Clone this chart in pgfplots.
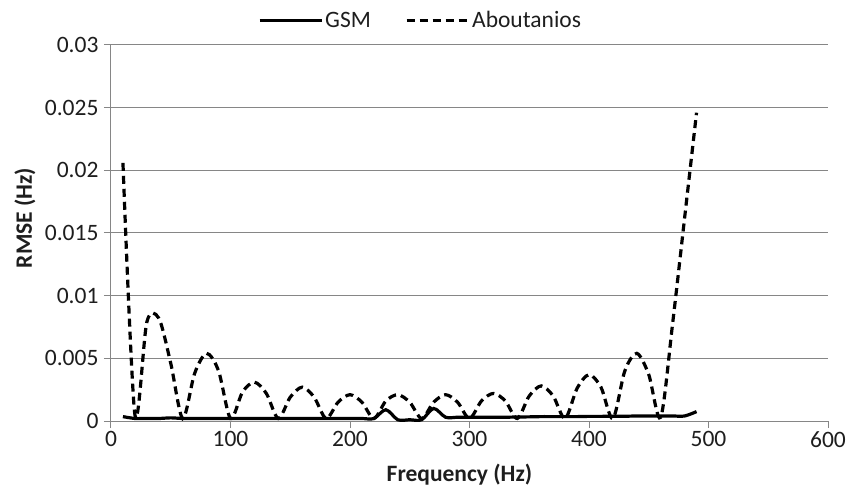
\documentclass[border=0pt]{standalone}
\usepackage{pgfplots}
\pgfplotsset{compat=1.18}
\usepackage{fontspec}
\setmainfont{Carlito}
\definecolor{gridgray}{RGB}{134,134,134}
\definecolor{txt}{RGB}{30,30,30}
\newcommand{\fs}{\fontsize{23.5bp}{28bp}\selectfont}
\begin{document}
\begin{tikzpicture}
\path[use as bounding box] (-111bp,-67bp) rectangle (737bp,421bp);
\begin{axis}[
  at={(0,0)}, anchor=south west,
  scale only axis, width=717bp, height=376bp,
  xmin=0, xmax=600, ymin=0, ymax=0.03,
  xtick={0,100,200,300,400,500,600},
  xticklabels={0,100,200,300,400,500,600},
  ytick={0,0.005,0.01,0.015,0.02,0.025,0.03},
  yticklabels={0,0.005,0.01,0.015,0.02,0.025,0.03},
  scaled y ticks=false,
  axis x line*=bottom, axis y line*=left,
  axis line style={draw=gridgray, line width=1bp, -},
  ymajorgrids, major grid style={draw=gridgray, line width=1bp},
  tick align=outside, major tick length=7bp,
  tick style={draw=gridgray, line width=1bp},
  ticklabel style={font=\fs, text=txt},
  yticklabel style={xshift=-2bp},
  /pgf/number format/assume math mode=true,
  xlabel={\bfseries Frequency (Hz)},
  ylabel={\bfseries RMSE (Hz)},
  label style={font=\fs, text=txt},
  xlabel style={at={(axis description cs:0.486,-0.143)}, anchor=center},
  ylabel style={at={(axis description cs:-0.12,0.54)}, anchor=center},
  legend columns=2,
  legend style={at={(axis description cs:0.4317,1.066)}, anchor=center, draw=none, fill=none,
    font=\fs, text=txt, inner sep=0bp,
    nodes={inner xsep=2bp, inner ysep=1bp},
    /tikz/every even column/.append style={column sep=32bp}},
  legend cell align=left,
  legend image code/.code={\draw[#1] (0bp,0bp) -- (62bp,0bp);},
]
\addplot[black, line width=3.2bp, smooth, tension=0.5] coordinates {
(10,0.00035) (20,0.0002) (30,0.0002) (40,0.0002) (50,0.00025) (60,0.0002)
(70,0.0002) (80,0.0002) (90,0.0002) (100,0.0002) (110,0.0002) (120,0.0002)
(130,0.0002) (140,0.0002) (150,0.0002) (160,0.0002) (170,0.0002) (180,0.0002)
(190,0.0002) (200,0.0002) (210,0.0002) (220,0.0002) (230,0.0009) (240,0.0001)
(250,0.0001) (260,0.0001) (270,0.0010) (280,0.0003) (290,0.0003) (300,0.0003)
(310,0.0003) (320,0.0003) (330,0.0003) (340,0.00032) (350,0.00033) (360,0.00035)
(370,0.00035) (380,0.00035) (390,0.00035) (400,0.00037) (410,0.00037) (420,0.00038)
(430,0.00038) (440,0.0004) (450,0.0004) (460,0.0004) (470,0.0004) (480,0.0004)
(490,0.00075)
};
\addlegendentry{GSM}
\addplot[black, line width=3.2bp, dash pattern=on 8bp off 5bp, smooth, tension=0.5] coordinates {
(10,0.0206) (20,0.0005) (30,0.0079) (40,0.0082) (50,0.0046) (60,0.0002)
(70,0.0038) (80,0.0054) (90,0.0040) (100,0.0002) (110,0.0023) (120,0.0031)
(130,0.0022) (140,0.0002) (150,0.0019) (160,0.0027) (170,0.0019) (180,0.0002)
(190,0.0015) (200,0.0021) (210,0.0015) (220,0.0002) (230,0.0016) (240,0.0021)
(250,0.0015) (260,0.0002) (270,0.0015) (280,0.0021) (290,0.0015) (300,0.0002)
(310,0.0016) (320,0.0022) (330,0.0016) (340,0.0002) (350,0.0020) (360,0.0028)
(370,0.0020) (380,0.0002) (390,0.0026) (400,0.0037) (410,0.0027) (420,0.0002)
(430,0.0040) (440,0.0054) (450,0.0037) (460,0.0003) (470,0.0078) (480,0.0162)
(490,0.0246)
};
\addlegendentry{Aboutanios}
\end{axis}
\end{tikzpicture}
\end{document}
